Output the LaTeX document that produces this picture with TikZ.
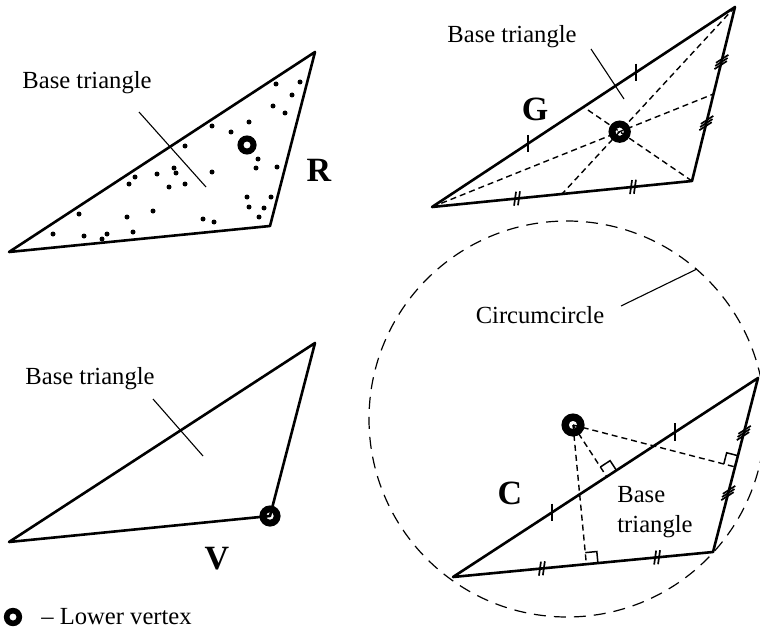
\documentclass[tikz,border=0pt]{standalone}
\usepackage{fontspec}
\setmainfont{Liberation Serif}
\usetikzlibrary{calc}
\tikzset{
 tri/.style={line width=1.3pt, line join=round},
 med/.style={line width=0.7pt, dash pattern=on 3pt off 2pt},
 circ/.style={line width=0.6pt, dash pattern=on 6pt off 4pt},
 leader/.style={line width=0.55pt},
 lbl/.style={font=\fontsize{12.3}{15}\selectfont, inner sep=0pt},
 big/.style={font=\fontsize{17}{20}\selectfont\bfseries, inner sep=0pt},
 sq/.style={line width=0.75pt},
 tk/.style={line width=0.85pt},
}
\newcommand\ringat[3]{\fill[even odd rule] (#1) circle[radius=#2] (#1) circle[radius=#3];}
\newcommand\mktickI[3]{\coordinate (tmp) at ($(#1)!#3!(#2)$);
  \draw[tk] ([shift={(0pt,4.4pt)}]tmp) -- ([shift={(0pt,-4.4pt)}]tmp);}
\newcommand\mktickII[3]{\foreach \d in {-1,1}{\pgfmathsetmacro\tpos{#3+\d*0.0075}
  \coordinate (tmp) at ($(#1)!\tpos!(#2)$);
  \draw[tk] ([shift={(-0.5pt,-3.5pt)}]tmp) -- ([shift={(0.5pt,3.5pt)}]tmp);}}
\newcommand\mktickIII[3]{\foreach \d in {-1,0,1}{\pgfmathsetmacro\tpos{#3+\d*0.018}
  \coordinate (tmp) at ($(#1)!\tpos!(#2)$);
  \draw[tk] ([shift={(-3.1pt,-2pt)}]tmp) -- ([shift={(3.1pt,2pt)}]tmp);}}
\newcommand\rightsq[3]{\coordinate (sqa) at ($(#1)!5.8pt!(#2)$);
  \coordinate (sqb) at ($(#1)!5.8pt!(#3)$);
  \draw[sq] (sqa) -- ($(sqa)+(sqb)-(#1)$) -- (sqb);}
\begin{document}
\begin{tikzpicture}[x=0.5pt,y=-0.5pt]
\useasboundingbox (0,0) rectangle (760,631);

% ---------- R ----------
\coordinate (R1) at (9,252);
\coordinate (R2) at (315,52);
\coordinate (R3) at (270,226);
\draw[tri] (R1) -- (R2) -- (R3) -- cycle;
\foreach \p in {(276,84),(300,82),(292,95),(273,106),(285,113),(249,122),(212,126),
  (231,132),(185,146),(258,159),(256,168),(277,167),(174,168),(176,173),(157,174),
  (135,177),(129,184),(212,172),(169,187),(185,184),(247,197),(271,197),(249,207),
  (264,208),(259,217),(79,214),(153,211),(127,217),(203,219),(214,222),(53,234),
  (84,236),(107,234),(102,239),(133,232)}
  \fill \p circle[radius=1.25pt];
\coordinate (Rl1) at (139,112);
\coordinate (Rl2) at (206,187);
\draw[leader] (Rl1) -- (Rl2);
\node[lbl] (Rbase) at (87,83) {Base triangle};
\node[big] (Rlab) at (319,170) {R};
\coordinate (Rring) at (247,145);
\ringat{Rring}{4.8pt}{1.8pt}

% ---------- G ----------
\coordinate (G1) at (432,207);
\coordinate (G2) at (735,7);
\coordinate (G3) at (692,181);
\coordinate (M12) at ($(G1)!0.5!(G2)$);
\coordinate (M13) at ($(G1)!0.5!(G3)$);
\coordinate (M23) at ($(G2)!0.5!(G3)$);
\coordinate (Gc) at ($(G3)!2/3!(M12)$);
\draw[med] (G1) -- (M23);
\draw[med] (G2) -- (M13);
\draw[med] (G3) -- (M12);
\draw[tri] (G1) -- (G2) -- (G3) -- cycle;
\mktickI{G1}{G2}{0.317}
\mktickI{G1}{G2}{0.673}
\mktickII{G1}{G3}{0.327}
\mktickII{G1}{G3}{0.773}
\mktickIII{G3}{G2}{0.333}
\mktickIII{G3}{G2}{0.684}
\coordinate (Gl1) at (591,49);
\coordinate (Gl2) at (624,99);
\draw[leader] (Gl1) -- (Gl2);
\node[lbl] (Gbase) at (512,37) {Base triangle};
\node[big] (Glab) at (535,109) {G};
\ringat{Gc}{5.6pt}{2.1pt}

% ---------- V ----------
\coordinate (V1) at (9,542);
\coordinate (V2) at (315,343);
\coordinate (V3) at (270,516);
\draw[tri] (V1) -- (V2) -- (V3) -- cycle;
\coordinate (Vl1) at (153,399);
\coordinate (Vl2) at (203,456);
\draw[leader] (Vl1) -- (Vl2);
\node[lbl] (Vbase) at (90,379) {Base triangle};
\node[big] (Vlab) at (217,559) {V};
\ringat{V3}{5.3pt}{1.9pt}

% ---------- C ----------
\coordinate (C1) at (453,577);
\coordinate (C2) at (713,552);
\coordinate (C3) at (758,378);
\coordinate (O) at (573,425);
\coordinate (Cc) at (567,419);
\draw[circ] (Cc) circle[radius=99pt];
\coordinate (F13) at ($(C1)!(O)!(C3)$);
\coordinate (F12) at ($(C1)!(O)!(C2)$);
\coordinate (F23) at ($(C2)!(O)!(C3)$);
\draw[med] (O) -- (F13);
\draw[med] (O) -- (F12);
\draw[med] (O) -- (F23);
\draw[tri] (C1) -- (C2) -- (C3) -- cycle;
\rightsq{F13}{C3}{O}
\rightsq{F12}{C2}{O}
\rightsq{F23}{C3}{O}
\mktickI{C1}{C3}{0.325}
\mktickI{C1}{C3}{0.728}
\mktickII{C1}{C2}{0.342}
\mktickII{C1}{C2}{0.785}
\mktickIII{C2}{C3}{0.339}
\mktickIII{C2}{C3}{0.684}
\coordinate (Cl1) at (621,306);
\coordinate (Cl2) at (697,269);
\draw[leader] (Cl1) -- (Cl2);
\node[lbl] (Ccirc) at (540,315) {Circumcircle};
\node[lbl, align=left, anchor=west] (Cbase) at (617,512) {Base\\triangle};
\node[big] (Clab) at (510,493) {C};
\ringat{O}{5.8pt}{2.1pt}

% ---------- legend ----------
\coordinate (Lring) at (13,617);
\ringat{Lring}{4.6pt}{1.8pt}
\node[lbl, anchor=west] (Ltext) at (41,617) {– Lower vertex};
\end{tikzpicture}
\end{document}
